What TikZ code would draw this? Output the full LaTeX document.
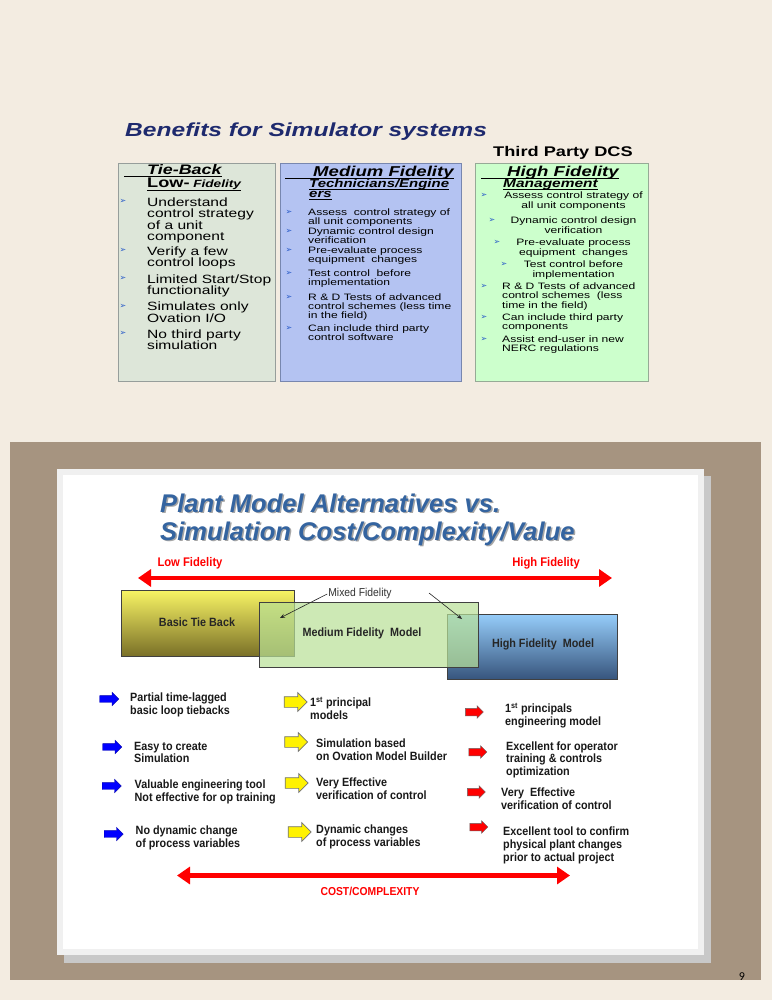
\documentclass[tikz,border=0pt]{standalone}
\usepackage{fontspec}
\setmainfont{Liberation Sans}
\newfontfamily\widesf[FakeStretch=1.3]{Liberation Sans}
\newfontfamily\narrowsf[FakeStretch=0.9]{Liberation Sans}
\newfontfamily\symsf{DejaVu Sans}
\newfontfamily\pagesf{Carlito}
\usetikzlibrary{arrows.meta,shapes.arrows,positioning}

\newcommand{\setfsz}[2]{\fontsize{#1}{#2}\selectfont}

\definecolor{pagebg}{RGB}{243,236,225}
\definecolor{slidebrown}{RGB}{166,148,128}
\definecolor{shadowgrey}{RGB}{200,200,200}
\definecolor{slideframe}{RGB}{240,240,240}
\definecolor{navytitle}{RGB}{30,42,110}
\definecolor{tbfill}{RGB}{221,230,217}
\definecolor{tbedge}{RGB}{150,158,155}
\definecolor{medfill}{RGB}{180,195,242}
\definecolor{mededge}{RGB}{120,135,175}
\definecolor{hifill}{RGB}{204,255,204}
\definecolor{hiedge}{RGB}{150,170,150}
\definecolor{bulletblue}{RGB}{40,90,200}
\definecolor{steelblue}{RGB}{52,100,160}
\definecolor{tieyellow}{RGB}{248,244,100}
\definecolor{tieolive}{RGB}{122,112,40}
\definecolor{hiblue}{RGB}{150,205,250}
\definecolor{hislate}{RGB}{55,85,125}
\definecolor{medgreen}{RGB}{185,225,150}

\tikzset{
  colbox/.style={draw=#1, line width=1pt},
  hdrtext/.style={anchor=base west, inner sep=0pt},
  uline/.style={line width=0.8pt},
  bodybig/.style={font=\widesf\setfsz{12}{11.6}, anchor=north west, align=left, inner sep=0pt},
  bodysmall/.style={font=\widesf\setfsz{9.3}{8.8}, anchor=north west, align=left, inner sep=0pt},
  bodycenter/.style={font=\widesf\setfsz{9.3}{9.6}, anchor=north, align=center, inner sep=0pt},
  bulletmark/.style={font=\symsf\setfsz{8}{8}, text=bulletblue, inner sep=0pt},
  slidetitle/.style={font=\bfseries\itshape\setfsz{25.6}{28}, text=steelblue, anchor=north west, align=left, inner sep=0pt},
  redlabel/.style={font=\narrowsf\bfseries\setfsz{12.5}{13}, text=red, inner sep=0pt},
  bigredarrow/.style={draw=red, line width=4.5pt, {Triangle[length=13pt,width=17pt]}-{Triangle[length=13pt,width=17pt]}},
  modelbox/.style={draw=black!75, line width=1pt, inner sep=0pt},
  boxlabel/.style={font=\narrowsf\bfseries\setfsz{12}{12}, text=black!85, inner sep=0pt},
  mixlabel/.style={font=\narrowsf\setfsz{11.5}{12}, text=black!80, inner sep=1pt},
  thinarrow/.style={draw=black!85, line width=0.6pt, -{Stealth[length=5pt,width=4pt]}},
  blockarrow/.style={single arrow, single arrow head indent=0pt, inner xsep=0pt},
  bluearrow/.style={blockarrow, fill=blue, draw=blue!70!black, line width=0.4pt, inner ysep=3.25pt, single arrow head extend=3.25pt, minimum height=19pt},
  yellowarrow/.style={blockarrow, fill=yellow, draw=black!55, line width=0.7pt, inner ysep=5pt, single arrow head extend=4pt, minimum height=23pt},
  redblock/.style={blockarrow, fill=red, draw=black!60, line width=0.5pt, inner ysep=3.5pt, single arrow head extend=2.5pt, minimum height=18pt},
  pointtext/.style={font=\narrowsf\bfseries\setfsz{12}{12.7}, text=black!90, anchor=north west, align=left, inner sep=0pt}
}

\begin{document}
\begin{tikzpicture}[x=1pt,y=-1pt]
  \useasboundingbox (0,0) rectangle (772,1000);
  \fill[pagebg] (0,0) rectangle (772,1000);

  % Benefits table
  \node[hdrtext, font=\widesf\bfseries\itshape\setfsz{18.9}{20}, text=navytitle] (bentitle) at (125,137) {Benefits for Simulator systems};
  \node[hdrtext, font=\widesf\bfseries\setfsz{14}{14}] (dcs) at (493,157) {Third Party DCS};
  \draw[colbox=tbedge, fill=tbfill] (118,164) rectangle (275,381);
  \draw[colbox=mededge, fill=medfill] (280,164) rectangle (461,381);
  \draw[colbox=hiedge, fill=hifill] (475,164) rectangle (648,381);

  % Tie-back column
  \node[hdrtext, font=\widesf\bfseries\itshape\setfsz{13.8}{14}] (tbhead) at (147,175) {Tie-Back};
  \draw[uline] (124,176.5) -- (124,176.5 -| tbhead.east);
  \node[hdrtext, font=\widesf\bfseries\itshape] (lowhead) at (147,188) {{\upshape\setfsz{14}{14}Low-} {\setfsz{10.5}{11}Fidelity}};
  \draw[uline] (lowhead.west |- 0,190) -- (lowhead.east |- 0,190);
  \node[bulletmark] (b11) at (123,201.5) {➢};
  \node[bodybig] (t11) at (147,197.2) {Understand\\control strategy\\of a unit\\component};
  \node[bulletmark] (b12) at (123,250.5) {➢};
  \node[bodybig] (t12) at (147,246.2) {Verify a few\\control loops};
  \node[bulletmark] (b13) at (123,278.5) {➢};
  \node[bodybig] (t13) at (147,274.2) {Limited Start/Stop\\functionality};
  \node[bulletmark] (b14) at (123,306) {➢};
  \node[bodybig] (t14) at (147,301.7) {Simulates only\\Ovation I/O};
  \node[bulletmark] (b15) at (123,333.5) {➢};
  \node[bodybig] (t15) at (147,329.2) {No third party\\simulation};

  % Medium column
  \node[hdrtext, font=\widesf\bfseries\itshape\setfsz{14.3}{15}] (medhead) at (313,177) {Medium Fidelity};
  \draw[uline] (285,178.5) -- (285,178.5 -| medhead.east);
  \node[hdrtext, font=\widesf\bfseries\itshape\setfsz{11.5}{12}] (techhead) at (309,188) {Technicians/Engine};
  \draw[uline] (techhead.west |- 0,189.5) -- (techhead.east |- 0,189.5);
  \node[hdrtext, font=\widesf\bfseries\itshape\setfsz{11.5}{12}] (ershead) at (309,198) {ers};
  \draw[uline] (ershead.west |- 0,199.5) -- (ershead.east |- 0,199.5);
  \node[bulletmark] (b21) at (289,212) {➢};
  \node[bodysmall] (t21) at (308,208.6) {Assess\ \ control strategy of\\all unit components};
  \node[bulletmark] (b22) at (289,231) {➢};
  \node[bodysmall] (t22) at (308,227.6) {Dynamic control design\\verification};
  \node[bulletmark] (b23) at (289,250) {➢};
  \node[bodysmall] (t23) at (308,246.6) {Pre-evaluate process\\equipment\ \ changes};
  \node[bulletmark] (b24) at (289,273) {➢};
  \node[bodysmall] (t24) at (308,269.6) {Test control\ \ before\\implementation};
  \node[bulletmark] (b25) at (289,297) {➢};
  \node[bodysmall] (t25) at (308,293.6) {R \& D Tests of advanced\\control schemes (less time\\in the field)};
  \node[bulletmark] (b26) at (289,328) {➢};
  \node[bodysmall] (t26) at (308,324.6) {Can include third party\\control software};

  % High column
  \node[hdrtext, font=\widesf\bfseries\itshape\setfsz{14.3}{15}] (hihead) at (507,176.5) {High Fidelity};
  \draw[uline] (481,178) -- (481,178 -| hihead.east);
  \node[hdrtext, font=\widesf\bfseries\itshape\setfsz{11.9}{12}] (mgmthead) at (503,187.5) {Management};
  \draw[uline] (mgmthead.west |- 0,189.5) -- (mgmthead.east |- 0,189.5);
  \node[bulletmark] (b31) at (484,195) {➢};
  \node[bodycenter] (t31) at (573.5,191.6) {Assess control strategy of\\all unit components};
  \node[bulletmark] (b32) at (492,220) {➢};
  \node[bodycenter] (t32) at (573.5,216.6) {Dynamic control design\\verification};
  \node[bulletmark] (b33) at (497,242) {➢};
  \node[bodycenter] (t33) at (573.5,238.6) {Pre-evaluate process\\equipment\ \ changes};
  \node[bulletmark] (b34) at (504,264) {➢};
  \node[bodycenter] (t34) at (573.5,260.6) {Test control before\\implementation};
  \node[bulletmark] (b35) at (484,286) {➢};
  \node[bodysmall, font=\widesf\setfsz{9.3}{9.3}] (t35) at (502,282.6) {R \& D Tests of advanced\\control schemes\ \ (less\\time in the field)};
  \node[bulletmark] (b36) at (484,317) {➢};
  \node[bodysmall, font=\widesf\setfsz{9.3}{9.3}] (t36) at (502,313.6) {Can include third party\\components};
  \node[bulletmark] (b37) at (484,339) {➢};
  \node[bodysmall, font=\widesf\setfsz{9.3}{9.3}] (t37) at (502,335.6) {Assist end-user in new\\NERC regulations};

  % Slide
  \fill[slidebrown] (10,442) rectangle (761,980);
  \fill[shadowgrey] (64,476) rectangle (711,963);
  \fill[slideframe] (57,469) rectangle (704,955);
  \fill[white] (63,475) rectangle (698,949);
  \node[slidetitle, text=black!35] (ttlshadow) at (161.5,495) {Plant Model Alternatives vs.\\Simulation Cost/Complexity/Value};
  \node[slidetitle] (pmtitle) at (160,493.5) {Plant Model Alternatives vs.\\Simulation Cost/Complexity/Value};

  % Fidelity scale
  \coordinate (fidleft) at (138,578);
  \coordinate (fidright) at (612,578);
  \draw[bigredarrow] (fidleft) -- (fidright);
  \node[redlabel] (lowfid) at (190,563) {Low Fidelity};
  \node[redlabel] (highfid) at (546,563) {High Fidelity};

  % Model boxes
  \node[modelbox, top color=tieyellow, bottom color=tieolive, minimum width=173pt, minimum height=66pt] (basic) at (207.5,623) {};
  \node[modelbox, top color=hiblue, bottom color=hislate, minimum width=170pt, minimum height=65pt] (high) at (532,646.5) {};
  \node[modelbox, fill=medgreen, fill opacity=0.7, minimum width=219pt, minimum height=65pt] (medium) at (368.5,634.5) {};
  \node[boxlabel] (basiclbl) at (197,622) {Basic Tie Back};
  \node[boxlabel] (mediumlbl) at (362,633) {Medium Fidelity\ \ Model};
  \node[boxlabel] (highlbl) at (543,644) {High Fidelity\ \ Model};
  \node[mixlabel] (mixed) at (360,594) {Mixed Fidelity};
  \coordinate (mixstart) at (429,593);
  \coordinate (ovlleft) at (280,618);
  \coordinate (ovlright) at (462,619);
  \draw[thinarrow] (mixed.west) -- (ovlleft);
  \draw[thinarrow] (mixstart) -- (ovlright);

  % Tie back points
  \node[bluearrow] (ba1) at (107.5,699) {};
  \node[pointtext] (bt1) at (130,692.7) {Partial time-lagged\\basic loop tiebacks};
  \node[bluearrow] (ba2) at (110.5,747) {};
  \node[pointtext] (bt2) at (134,741.7) {Easy to create\\Simulation};
  \node[bluearrow] (ba3) at (110,786) {};
  \node[pointtext] (bt3) at (134.5,779.7) {Valuable engineering tool\\Not effective for op training};
  \node[bluearrow] (ba4) at (112,834) {};
  \node[pointtext] (bt4) at (135.5,825.7) {No dynamic change\\of process variables};

  % Medium points
  \node[yellowarrow] (ya1) at (293,702) {};
  \node[pointtext] (yt1) at (310,697.2) {1\textsuperscript{st} principal\\models};
  \node[yellowarrow] (ya2) at (293.5,742) {};
  \node[pointtext] (yt2) at (316,738.7) {Simulation based\\on Ovation Model Builder};
  \node[yellowarrow] (ya3) at (294,783) {};
  \node[pointtext] (yt3) at (316,777.7) {Very Effective\\verification of control};
  \node[yellowarrow] (ya4) at (297,832) {};
  \node[pointtext] (yt4) at (316,824.7) {Dynamic changes\\of process variables};

  % High points
  \node[redblock] (ra1) at (472.5,712) {};
  \node[pointtext] (rt1) at (505,702.7) {1\textsuperscript{st} principals\\engineering model};
  \node[redblock] (ra2) at (476,752) {};
  \node[pointtext] (rt2) at (506,741.2) {Excellent for operator\\training \& controls\\optimization};
  \node[redblock] (ra3) at (474.5,792) {};
  \node[pointtext] (rt3) at (501,787.7) {Very~~Effective\\verification of control};
  \node[redblock] (ra4) at (477,827) {};
  \node[pointtext] (rt4) at (503,826.7) {Excellent tool to confirm\\physical plant changes\\prior to actual project};

  % Cost scale
  \coordinate (costleft) at (177,875.5);
  \coordinate (costright) at (570,875.5);
  \draw[bigredarrow] (costleft) -- (costright);
  \node[redlabel, font=\narrowsf\bfseries\setfsz{11.5}{12}] (costlbl) at (370,891) {COST/COMPLEXITY};

  \node[font=\pagesf\setfsz{12}{12}, inner sep=0pt] (pagenum) at (742,977) {9};
\end{tikzpicture}
\end{document}
